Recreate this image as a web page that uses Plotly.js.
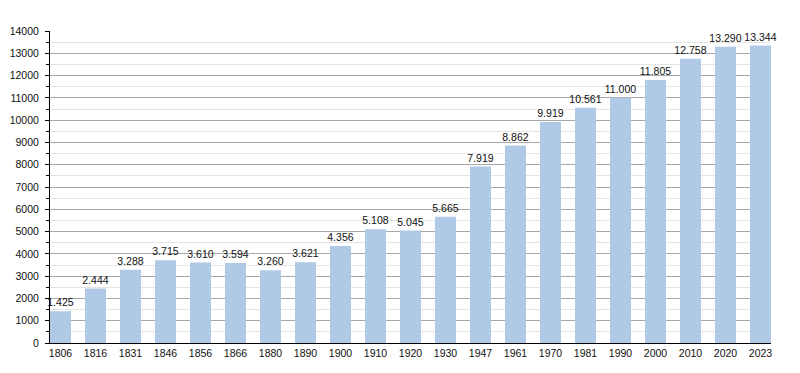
<!DOCTYPE html>
<html>
<head>
<meta charset="utf-8">
<script src="https://cdn.plot.ly/plotly-3.0.1.min.js"></script>
<style>html,body{margin:0;padding:0;background:#fff;}#chart{width:800px;height:373px;}</style>
</head>
<body>
<div id="chart"></div>
<script>
const years = ["1806","1816","1831","1846","1856","1866","1880","1890","1900","1910","1920","1930","1947","1961","1970","1981","1990","2000","2010","2020","2023"];
const population = [1425,2444,3288,3715,3610,3594,3260,3621,4356,5108,5045,5665,7919,8862,9919,10561,11000,11805,12758,13290,13344];
const valueLabels = population.map(v => v >= 1000 ? Math.floor(v/1000) + "." + String(v%1000).padStart(3,"0") : String(v));

const trace = {
  type: "bar",
  x: years,
  y: population,
  text: valueLabels,
  textposition: "outside",
  constraintext: "none",
  textfont: {family: "Liberation Sans, Arial, sans-serif", size: 10.5, color: "#111"},
  cliponaxis: false,
  width: 0.6,
  marker: {color: "#b0c9e6", line: {width: 0}},
  hoverinfo: "x+y"
};

const layout = {
  width: 800, height: 373,
  margin: {l: 50, r: 29, t: 31, b: 30},
  paper_bgcolor: "#fff", plot_bgcolor: "#fff",
  showlegend: false,
  bargap: 0.4,
  font: {family: "Liberation Sans, Arial, sans-serif", size: 10, color: "#111"},
  xaxis: {
    type: "category",
    range: [-0.3, 20.3],
    showline: true, linecolor: "#000", linewidth: 1,
    ticks: "", showgrid: false, zeroline: false,
    tickfont: {size: 10.5, color: "#111"}
  },
  yaxis: {
    range: [0, 14000],
    dtick: 1000,
    tickformat: "d",
    showline: true, linecolor: "#000", linewidth: 1,
    ticks: "outside", ticklen: 4, tickcolor: "#000",
    showgrid: true, gridcolor: "#a8a8a8", gridwidth: 1,
    zeroline: false,
    tickfont: {size: 10.5, color: "#111"},
    ticklabelstandoff: 4,
    minor: {dtick: 500, ticks: "outside", ticklen: 3, tickcolor: "#000", showgrid: true, gridcolor: "#e4e4e4", gridwidth: 1}
  }
};

Plotly.newPlot("chart", [trace], layout, {staticPlot: true, displayModeBar: false});
</script>
</body>
</html>
